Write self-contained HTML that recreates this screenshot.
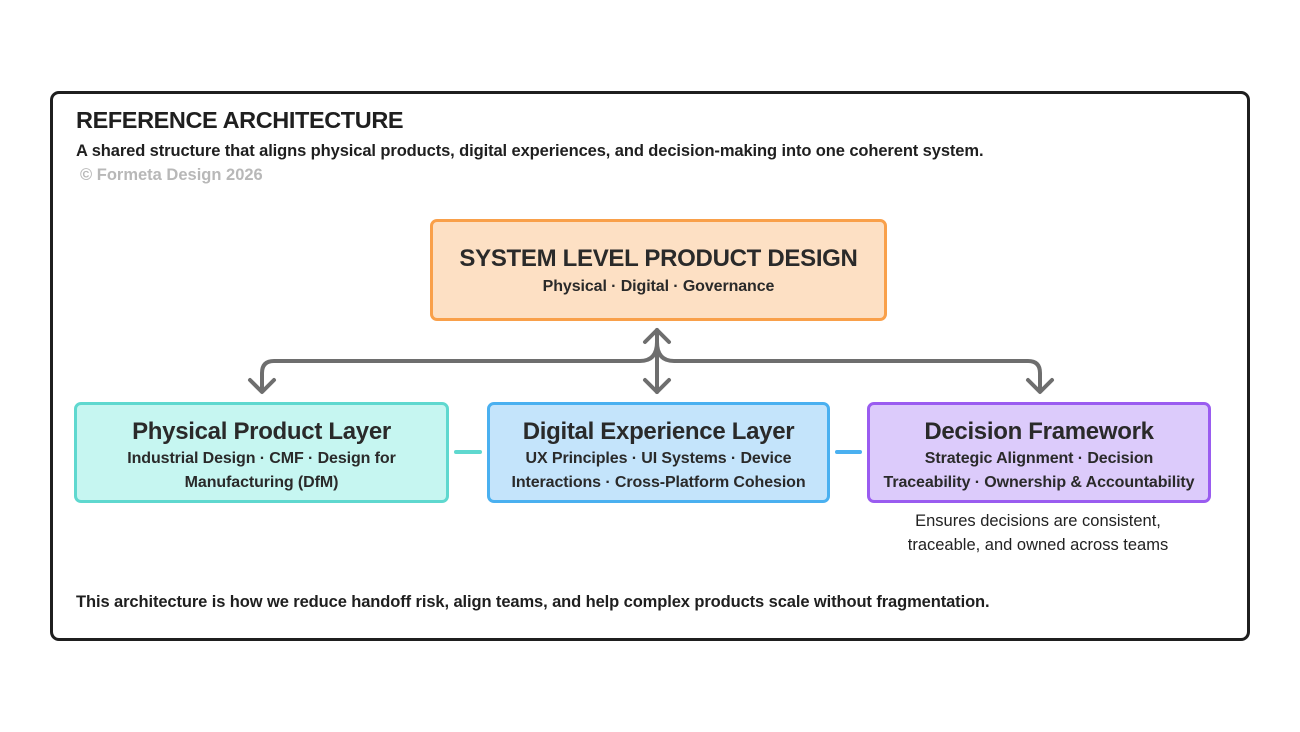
<!DOCTYPE html>
<html><head><meta charset="utf-8"><style>
*{margin:0;padding:0;box-sizing:border-box}
body{width:1300px;height:732px;background:#fff;position:relative;overflow:hidden;font-family:"Liberation Sans",sans-serif;color:#222}
.a{position:absolute;white-space:nowrap}
.frame{position:absolute;left:50px;top:91px;width:1200px;height:550px;border:3px solid #1f1f1f;border-radius:9px}
.box{position:absolute;border:3px solid;border-radius:7px;text-align:center}
.t{font-weight:bold;font-size:24px;color:#2a2a2a;letter-spacing:-0.3px}
.s{font-weight:bold;font-size:16px;color:#2a2a2a;line-height:24px;letter-spacing:-0.1px}
</style></head><body>
<div class="frame"></div>
<div class="a" style="left:76px;top:107px;font-size:23.5px;font-weight:bold;color:#1f1f1f;letter-spacing:-0.4px">REFERENCE ARCHITECTURE</div>
<div class="a" style="left:76px;top:142px;font-size:16.5px;font-weight:bold;color:#1f1f1f;letter-spacing:-0.1px">A shared structure that aligns physical products, digital experiences, and decision-making into one coherent system.</div>
<div class="a" style="left:80px;top:166px;font-size:16.5px;font-weight:bold;color:#b8b8b8">© Formeta Design 2026</div>

<div class="box" style="left:430px;top:219px;width:457px;height:102px;background:#fde0c4;border-color:#f9a04a">
<div class="t" style="margin-top:23px;font-size:24px">SYSTEM LEVEL PRODUCT DESIGN</div>
<div class="s" style="margin-top:2px">Physical · Digital · Governance</div>
</div>

<svg class="a" style="left:0;top:0" width="1300" height="732">
<g fill="none" stroke="#6e6e6e" stroke-width="4" stroke-linecap="round" stroke-linejoin="round">
<path d="M657 330 V392"/>
<path d="M645 342 L657 330 L669 342"/>
<path d="M645 380 L657 392 L669 380"/>
<path d="M262 391 V373 Q262 361 274 361 H640 Q657 361 657 342"/>
<path d="M1040 391 V373 Q1040 361 1028 361 H674 Q657 361 657 342"/>
<path d="M250 380 L262 392 L274 380"/>
<path d="M1028 380 L1040 392 L1052 380"/>
</g>
<line x1="456" y1="452" x2="480" y2="452" stroke="#5fd8cf" stroke-width="4" stroke-linecap="round"/>
<line x1="837" y1="452" x2="860" y2="452" stroke="#4ab0f0" stroke-width="4" stroke-linecap="round"/>
</svg>

<div class="box" style="left:74px;top:402px;width:375px;height:101px;background:#c6f6f1;border-color:#5fd8cf">
<div class="t" style="margin-top:13px">Physical Product Layer</div>
<div class="s" style="margin-top:1px">Industrial Design · CMF · Design for<br>Manufacturing (DfM)</div>
</div>
<div class="box" style="left:487px;top:402px;width:343px;height:101px;background:#c4e4fb;border-color:#4ab0f0">
<div class="t" style="margin-top:13px">Digital Experience Layer</div>
<div class="s" style="margin-top:1px">UX Principles · UI Systems · Device<br>Interactions · Cross-Platform Cohesion</div>
</div>
<div class="box" style="left:867px;top:402px;width:344px;height:101px;background:#dccbfb;border-color:#9a5cf0">
<div class="t" style="margin-top:13px">Decision Framework</div>
<div class="s" style="margin-top:1px">Strategic Alignment · Decision<br>Traceability · Ownership &amp; Accountability</div>
</div>

<div class="a" style="left:868px;top:509px;width:340px;text-align:center;font-size:16.5px;line-height:24px;color:#222">Ensures decisions are consistent,<br>traceable, and owned across teams</div>

<div class="a" style="left:76px;top:593px;font-size:16.5px;font-weight:bold;color:#1f1f1f;letter-spacing:-0.1px">This architecture is how we reduce handoff risk, align teams, and help complex products scale without fragmentation.</div>
</body></html>
